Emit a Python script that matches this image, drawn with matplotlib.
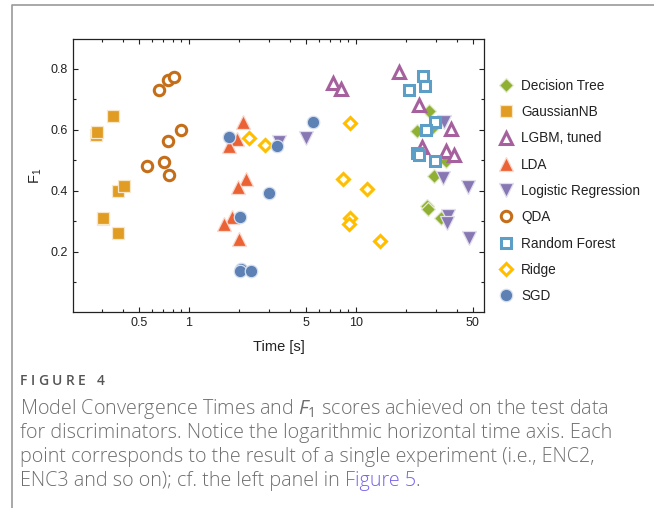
import numpy as np
import matplotlib
matplotlib.use("Agg")
import matplotlib.pyplot as plt
from matplotlib.lines import Line2D
from matplotlib.ticker import FixedLocator, NullFormatter, FixedFormatter
from matplotlib.colors import to_rgb

plt.rcParams["font.family"] = ["Liberation Sans", "DejaVu Sans"]
plt.rcParams["mathtext.fontset"] = "custom"
plt.rcParams["mathtext.rm"] = "Open Sans"
plt.rcParams["mathtext.it"] = "Open Sans:italic"

# convergence time [s] and F1 per model, one point per experiment
dt_time = [27.4, 23.3, 28.5, 34.4, 29.2, 26.5, 26.8, 32.2]
dt_f1 = [0.662, 0.598, 0.605, 0.499, 0.450, 0.351, 0.340, 0.311]

gnb_time = [0.276, 0.282, 0.352, 0.377, 0.408, 0.304, 0.306, 0.377]
gnb_f1 = [0.584, 0.592, 0.647, 0.400, 0.417, 0.307, 0.312, 0.263]

lgbm_time = [7.32, 8.13, 18.1, 23.9, 36.9, 24.8, 34.4, 38.6]
lgbm_f1 = [0.753, 0.734, 0.789, 0.681, 0.602, 0.543, 0.531, 0.518]

lda_time = [2.11, 1.93, 1.74, 2.18, 1.97, 1.82, 1.61, 1.99]
lda_f1 = [0.626, 0.571, 0.548, 0.438, 0.412, 0.316, 0.292, 0.242]

lr_time = [3.46, 5.00, 33.6, 33.3, 47.0, 35.4, 34.9, 47.5]
lr_f1 = [0.560, 0.572, 0.625, 0.443, 0.412, 0.319, 0.294, 0.246]

qda_time = [0.660, 0.751, 0.817, 0.892, 0.751, 0.563, 0.706, 0.756]
qda_f1 = [0.731, 0.762, 0.775, 0.600, 0.565, 0.483, 0.494, 0.452]

rf_time = [25.2, 20.9, 26.0, 29.9, 26.1, 23.3, 23.9, 29.9]
rf_f1 = [0.777, 0.731, 0.745, 0.626, 0.600, 0.524, 0.518, 0.497]

ridge_time = [2.28, 2.85, 9.2, 8.4, 11.7, 9.2, 9.04, 13.9]
ridge_f1 = [0.574, 0.552, 0.624, 0.438, 0.406, 0.312, 0.292, 0.236]

sgd_time = [1.74, 3.38, 5.53, 3.03, 2.03, 2.05, 2.02, 2.34]
sgd_f1 = [0.576, 0.548, 0.625, 0.392, 0.315, 0.143, 0.138, 0.138]

series = [
    ("Decision Tree", dt_time, dt_f1, "#8FB032", "D", 7, False),
    ("GaussianNB", gnb_time, gnb_f1, "#E19C24", "s", 8.5, False),
    ("LGBM, tuned", lgbm_time, lgbm_f1, "#A5609D", "^", 8, True),
    ("LDA", lda_time, lda_f1, "#EB6235", "^", 10, False),
    ("Logistic Regression", lr_time, lr_f1, "#8778B3", "v", 10, False),
    ("QDA", qda_time, qda_f1, "#C56E1A", "o", 7.5, True),
    ("Random Forest", rf_time, rf_f1, "#5D9EC7", "s", 7.5, True),
    ("Ridge", ridge_time, ridge_f1, "#FFBF00", "D", 5.8, True),
    ("SGD", sgd_time, sgd_f1, "#5E81B5", "o", 9, False),
]


def pale(c, k=0.75):
    r = np.array(to_rgb(c))
    return tuple(r + (1 - r) * k)


fig = plt.figure(figsize=(6.54, 5.08), dpi=100)
ax = fig.add_axes([73 / 654, 1 - 312 / 508, 411 / 654, 273 / 508])

handles = []
for name, t, f, col, mk, ms, hollow in series:
    if hollow:
        h, = ax.plot(t, f, ls="none", marker=mk, ms=ms, mfc="white", mec=col, mew=2.2, label=name)
    else:
        h, = ax.plot(t, f, ls="none", marker=mk, ms=ms, mfc=col, mec=pale(col), mew=0.9, label=name)
    handles.append(h)

ax.set_xscale("log")
ax.set_xlim(0.202, 58.4)
ax.set_ylim(0.003, 0.898)

ax.xaxis.set_major_locator(FixedLocator([0.5, 1, 5, 10, 50]))
ax.xaxis.set_major_formatter(FixedFormatter(["0.5", "1", "5", "10", "50"]))
ax.xaxis.set_minor_locator(FixedLocator([0.3, 0.4, 0.6, 0.7, 0.8, 0.9, 2, 3, 4, 6, 7, 8, 9, 20, 30, 40]))
ax.xaxis.set_minor_formatter(NullFormatter())
ax.yaxis.set_major_locator(FixedLocator([0.2, 0.4, 0.6, 0.8]))
ax.yaxis.set_minor_locator(FixedLocator([0.1, 0.3, 0.5, 0.7]))

ax.tick_params(which="both", direction="in", top=True, right=True, width=0.8,
               labelsize=9, colors="#222222")
ax.tick_params(which="major", length=3.5)
ax.tick_params(which="minor", length=2.2)
for s in ax.spines.values():
    s.set_linewidth(0.9)
    s.set_color("#222222")

ax.set_xlabel("Time [s]", fontsize=10.5, color="#222222", labelpad=8)
ax.set_ylabel(r"$\mathregular{F_1}$", fontsize=10.5, color="#222222", labelpad=5)

ax.legend(handles=handles, loc="upper left", bbox_to_anchor=(498 / 654, 1 - 79 / 508),
          bbox_transform=fig.transFigure, frameon=False, fontsize=9.8, numpoints=1,
          borderpad=0, borderaxespad=0, handlelength=1.2, handletextpad=0.5,
          labelspacing=0.9, labelcolor="#222222")

# journal page frame
fig.add_artist(Line2D([12 / 654, 12 / 654, 1.0], [0.0, 1 - 5 / 508, 1 - 5 / 508],
                      transform=fig.transFigure, color="#9a9a9a", lw=1.2))

renderer = fig.canvas.get_renderer()

# "FIGURE 4" with letter spacing
x = 20.0
for ch in "FIGURE 4":
    t = fig.text(x / 654, 1 - 381 / 508, ch, fontsize=10, color="#555555",
                 family="Open Sans", fontweight="semibold", va="center")
    w = t.get_window_extent(renderer).width if ch != " " else 4.0
    x += w + 3.4

cap_col = "#6e6e6e"
lines = [
    r"Model Convergence Times and $\mathit{F}_1$ scores achieved on the test data",
    "for discriminators. Notice the logarithmic horizontal time axis. Each",
    "point corresponds to the result of a single experiment (i.e., ENC2,",
    "ENC3 and so on); cf. the left panel in ",
]
cap_fs = 14.2
for i, s in enumerate(lines):
    txt = fig.text(20 / 654, 1 - (409 + 24 * i) / 508, s, fontsize=cap_fs, color=cap_col,
                   family="Open Sans", fontweight="light", va="center")

bb = txt.get_window_extent(renderer)
link = fig.text(bb.x1 / fig.bbox.width, 1 - 481 / 508, "Figure 5", fontsize=cap_fs,
                color="#7663e8", family="Open Sans", fontweight="light", va="center")
bb2 = link.get_window_extent(renderer)
fig.text(bb2.x1 / fig.bbox.width, 1 - 481 / 508, ".", fontsize=cap_fs, color=cap_col,
         family="Open Sans", fontweight="light", va="center")

fig.savefig("out.png", dpi=100)
